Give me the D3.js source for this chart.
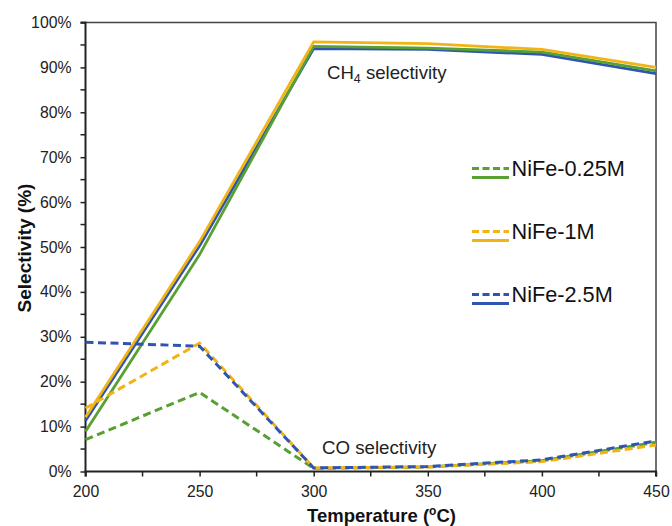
<!DOCTYPE html>
<html>
<head>
<meta charset="utf-8">
<script src="https://cdn.jsdelivr.net/npm/d3@7"></script>
<style>
  html, body { margin: 0; padding: 0; background: #fff; }
  svg { display: block; font-family: "Liberation Sans", Arial, sans-serif; }
</style>
</head>
<body>
<svg id="chart" width="672" height="526"></svg>
<script>
// ---- data ----
const temps = [200, 250, 300, 350, 400, 450];
const seriesNames = ["NiFe-0.25M", "NiFe-1M", "NiFe-2.5M"];
const seriesColors = ["#58a032", "#f0b416", "#2f55b0"];
const ch4_025 = [8.9, 48.3, 94.7, 94.3, 93.4, 89.2];
const ch4_1   = [12.1, 51.2, 95.7, 95.3, 94.0, 90.0];
const ch4_25  = [11.3, 50.3, 94.2, 94.0, 92.9, 88.6];
const co_025  = [7.1, 17.6, 0.7, 1.0, 2.4, 6.5];
const co_1    = [14.1, 28.6, 0.8, 1.0, 2.2, 5.9];
const co_25   = [28.8, 27.9, 0.8, 1.1, 2.6, 6.8];
const xTicks = [200, 250, 300, 350, 400, 450];
const yTicks = [0, 10, 20, 30, 40, 50, 60, 70, 80, 90, 100];

const svg = d3.select("#chart");
const m = {left: 85.5, right: 656, top: 22.5, bottom: 471.5};

const x = d3.scaleLinear().domain([200, 450]).range([m.left, m.right]);
const y = d3.scaleLinear().domain([0, 100]).range([m.bottom, m.top]);

// frame (top & right)
svg.append("path")
  .attr("d", `M${m.left},${m.top}H${m.right}V${m.bottom}`)
  .attr("fill", "none").attr("stroke", "#444").attr("stroke-width", 1.5);

// minor ticks
const gy = svg.append("g");
d3.range(5, 100, 10).forEach(v => {
  gy.append("line").attr("x1", m.left - 5).attr("x2", m.left)
    .attr("y1", y(v)).attr("y2", y(v)).attr("stroke", "#222").attr("stroke-width", 1.5);
});
d3.range(225, 450, 50).forEach(v => {
  gy.append("line").attr("y1", m.bottom).attr("y2", m.bottom + 5)
    .attr("x1", x(v)).attr("x2", x(v)).attr("stroke", "#222").attr("stroke-width", 1.5);
});

// axes
const yAxis = svg.append("g").attr("transform", `translate(${m.left},0)`)
  .call(d3.axisLeft(y).tickValues(yTicks).tickSize(5).tickPadding(9).tickFormat(d => d + "%"));
const xAxis = svg.append("g").attr("transform", `translate(0,${m.bottom})`)
  .call(d3.axisBottom(x).tickValues(xTicks).tickSize(5).tickPadding(9).tickFormat(d3.format("d")));
[yAxis, xAxis].forEach(g => {
  g.select(".domain").attr("stroke", "#222").attr("stroke-width", 2);
  g.selectAll(".tick line").attr("stroke", "#222").attr("stroke-width", 1.5);
  g.selectAll("text").attr("font-size", 15.8).attr("fill", "#222")
    .attr("font-family", "'Liberation Sans', Arial, sans-serif");
});
yAxis.select(".domain").attr("d", `M-5,${m.top}H0V${m.bottom}`);
xAxis.select(".domain").attr("d", `M${m.left},5V0H${m.right}V5`);

// lines
const line = d3.line().x((d, i) => x(temps[i])).y(d => y(d));
const solids = [[ch4_25, 2], [ch4_025, 0], [ch4_1, 1]];
solids.forEach(([vals, ci]) => {
  svg.append("path").datum(vals).attr("d", line)
    .attr("fill", "none").attr("stroke", seriesColors[ci]).attr("stroke-width", 2.8)
    .attr("stroke-linejoin", "miter");
});
const dashed = [[co_025, 0], [co_1, 1], [co_25, 2]];
dashed.forEach(([vals, ci]) => {
  svg.append("path").datum(vals).attr("d", line)
    .attr("fill", "none").attr("stroke", seriesColors[ci]).attr("stroke-width", 3)
    .attr("stroke-dasharray", "8,4.5");
});

// annotations
const ch4 = svg.append("text").attr("x", 327).attr("y", 78.5)
  .attr("font-size", 18.6).attr("fill", "#222");
ch4.append("tspan").text("CH");
ch4.append("tspan").text("4").attr("font-size", 12.5).attr("dy", 4);
ch4.append("tspan").text(" selectivity").attr("dy", -4);

svg.append("text").attr("x", 322).attr("y", 453.5)
  .attr("font-size", 18.7).attr("fill", "#222").text("CO selectivity");

// legend
const legY = [168.5, 231.5, 294.5];
seriesNames.forEach((name, i) => {
  const g = svg.append("g").attr("transform", `translate(0,${legY[i]})`);
  g.append("line").attr("x1", 472).attr("x2", 509).attr("y1", 0).attr("y2", 0)
    .attr("stroke", seriesColors[i]).attr("stroke-width", 3).attr("stroke-dasharray", "7,3.5");
  g.append("line").attr("x1", 472).attr("x2", 509).attr("y1", 9).attr("y2", 9)
    .attr("stroke", seriesColors[i]).attr("stroke-width", 3);
  g.append("text").attr("x", 511.5).attr("y", 7).attr("font-size", 21.7)
    .attr("fill", "#111").text(name);
});

// axis titles
const xt = svg.append("text").attr("x", 381.5).attr("y", 522)
  .attr("text-anchor", "middle").attr("font-size", 18.5).attr("font-weight", "bold").attr("fill", "#111");
xt.append("tspan").text("Temperature (");
xt.append("tspan").text("o").attr("font-size", 12).attr("dy", -7);
xt.append("tspan").text("C)").attr("dy", 7);

svg.append("text").attr("transform", "translate(31,248) rotate(-90)")
  .attr("text-anchor", "middle").attr("font-size", 19).attr("font-weight", "bold").attr("fill", "#111")
  .text("Selectivity (%)");
</script>
</body>
</html>
